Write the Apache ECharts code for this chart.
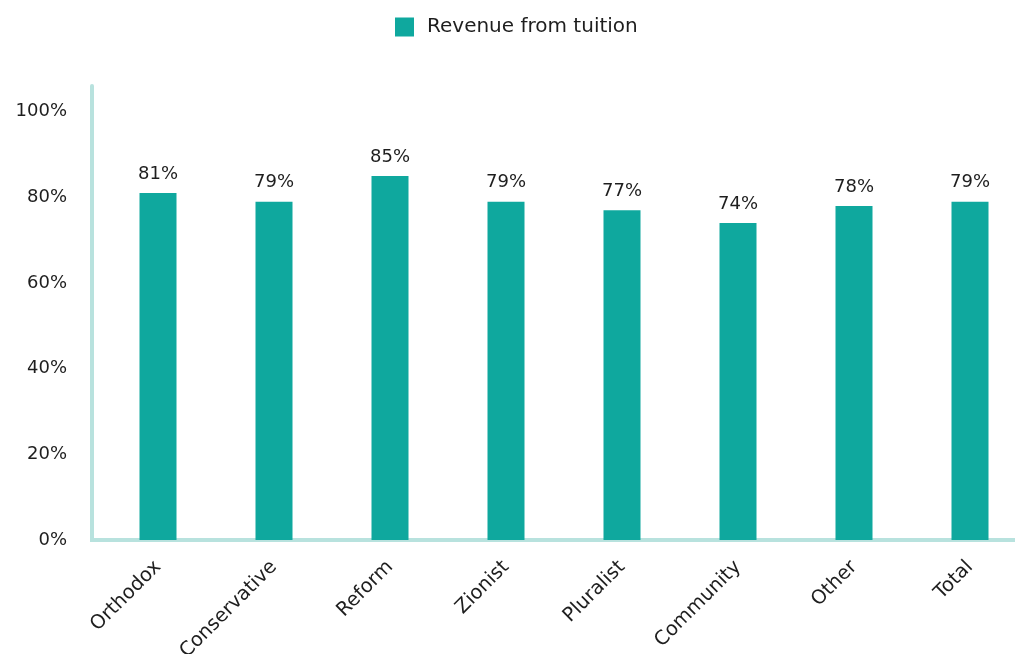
<!DOCTYPE html>
<html>
<head>
<meta charset="utf-8">
<style>
  html, body { margin: 0; padding: 0; background: #ffffff; }
  #chart { width: 1015px; height: 654px; }
</style>
<script src="https://cdn.jsdelivr.net/npm/echarts@6/dist/echarts.min.js"></script>
</head>
<body>
<div id="chart"></div>
<script>
// School types and the share of revenue coming from tuition (percent)
const categories = ['Orthodox', 'Conservative', 'Reform', 'Zionist', 'Pluralist', 'Community', 'Other', 'Total'];
const tuitionShare = [81, 79, 85, 79, 77, 74, 78, 79];
const seriesName = 'Revenue from tuition';

const barColor = '#0fa89e';
const axisColor = '#b8e2de';
const textColor = '#1e1e1e';
const font = 'DejaVu Sans';

const chart = echarts.init(document.getElementById('chart'));
chart.setOption({
  animation: false,
  textStyle: { fontFamily: font, color: textColor },
  legend: {
    left: 390,
    top: 12,
    itemWidth: 19,
    itemHeight: 19,
    icon: 'rect',
    textStyle: { fontFamily: font, fontSize: 20, color: textColor, padding: [0, 0, 0, 8] },
    data: [seriesName]
  },
  // plot area runs slightly past the right edge of the canvas
  grid: { left: 100, width: 928, top: 86, bottom: 114, containLabel: false, outerBoundsMode: 'none' },
  xAxis: {
    type: 'category',
    data: categories,
    axisLine: { show: true, lineStyle: { color: axisColor, width: 4 } },
    axisTick: { show: false },
    axisLabel: {
      rotate: 45,
      margin: 24,
      fontFamily: font,
      fontSize: 19.5,
      color: textColor,
      interval: 0
    }
  },
  yAxis: {
    type: 'value',
    min: 0,
    max: 106,
    interval: 20,
    offset: 8,
    axisLine: { show: true, lineStyle: { color: axisColor, width: 4 } },
    axisTick: { show: false },
    splitLine: { show: false },
    axisLabel: {
      margin: 25,
      fontFamily: font,
      fontSize: 18,
      color: textColor,
      formatter: v => (v % 20 === 0 ? v + '%' : '')
    }
  },
  graphic: [
    {
      type: 'rect',
      z: 100,
      shape: { x: 90, y: 538, width: 12, height: 4 },
      style: { fill: axisColor }
    }
  ],
  series: [
    {
      name: seriesName,
      type: 'bar',
      data: tuitionShare,
      barWidth: 37,
      itemStyle: { color: barColor },
      label: {
        show: true,
        position: 'top',
        distance: 10,
        fontFamily: font,
        fontSize: 18,
        color: textColor,
        formatter: p => p.value + '%'
      }
    }
  ]
});
</script>
</body>
</html>
